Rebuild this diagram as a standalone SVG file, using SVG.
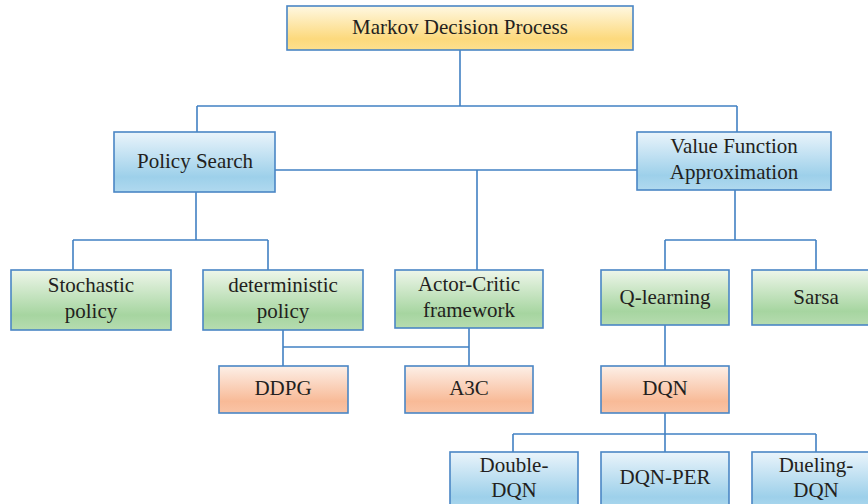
<svg xmlns="http://www.w3.org/2000/svg" width="868" height="504" viewBox="0 0 868 504">
  <defs>
    <linearGradient id="gYellow" x1="0" y1="0" x2="0" y2="1">
      <stop offset="0" stop-color="#fff8e2"/>
      <stop offset="0.75" stop-color="#fcd97c"/>
      <stop offset="1" stop-color="#fde08e"/>
    </linearGradient>
    <linearGradient id="gBlue" x1="0" y1="0" x2="0" y2="1">
      <stop offset="0" stop-color="#eaf4fb"/>
      <stop offset="0.75" stop-color="#9dd0ea"/>
      <stop offset="1" stop-color="#b0d9ef"/>
    </linearGradient>
    <linearGradient id="gGreen" x1="0" y1="0" x2="0" y2="1">
      <stop offset="0" stop-color="#eef6ea"/>
      <stop offset="0.75" stop-color="#a6d5a0"/>
      <stop offset="1" stop-color="#b6dcb0"/>
    </linearGradient>
    <linearGradient id="gOrange" x1="0" y1="0" x2="0" y2="1">
      <stop offset="0" stop-color="#fdf0e8"/>
      <stop offset="0.75" stop-color="#f8ba97"/>
      <stop offset="1" stop-color="#f9c4a6"/>
    </linearGradient>
  </defs>
  <style>
    .box { stroke: #4a86c5; stroke-width: 1.6; }
    .y { fill: url(#gYellow); }
    .b { fill: url(#gBlue); }
    .g { fill: url(#gGreen); }
    .o { fill: url(#gOrange); }
    text { font-family: "Liberation Serif", "DejaVu Serif", serif; font-size: 21px; fill: #231f20; text-anchor: middle; }
    .links path { fill: none; stroke: #4281c3; stroke-width: 1.6; }
  </style>
  <rect width="868" height="504" fill="#ffffff"/>

  <g class="links">
    <path d="M460 50 V106 M197 106 H737 M197 106 V132 M737 106 V132"/>
    <path d="M275 170 H637 M477 170 V270"/>
    <path d="M196 192 V240 M73 240 H268 M73 240 V270 M268 240 V270"/>
    <path d="M283 330 V366 M283 347 H469 M469 328 V366"/>
    <path d="M735 190 V240 M665 240 H816 M665 240 V270 M816 240 V270"/>
    <path d="M665 325 V366"/>
    <path d="M665 413 V452 M513 434 H816 M513 434 V452 M816 434 V452"/>
  </g>

  <g id="mdp"><rect class="box y" x="287" y="6" width="346" height="44"/><text x="460" y="34">Markov Decision Process</text></g>
  <g id="policy-search"><rect class="box b" x="114" y="132" width="161" height="60"/><text x="195" y="168">Policy Search</text></g>
  <g id="value-function"><rect class="box b" x="637" y="132" width="194" height="58"/><text x="734" y="153">Value Function</text><text x="734" y="179">Approximation</text></g>
  <g id="stochastic"><rect class="box g" x="11" y="270" width="160" height="60"/><text x="91" y="292">Stochastic</text><text x="91" y="318">policy</text></g>
  <g id="deterministic"><rect class="box g" x="203" y="270" width="160" height="60"/><text x="283" y="292">deterministic</text><text x="283" y="318">policy</text></g>
  <g id="actor-critic"><rect class="box g" x="395" y="270" width="148" height="58"/><text x="469" y="291">Actor-Critic</text><text x="469" y="317">framework</text></g>
  <g id="q-learning"><rect class="box g" x="601" y="270" width="128" height="55"/><text x="665" y="304">Q-learning</text></g>
  <g id="sarsa"><rect class="box g" x="752" y="270" width="120" height="55"/><text x="816" y="304">Sarsa</text></g>
  <g id="ddpg"><rect class="box o" x="219" y="366" width="129" height="47"/><text x="283" y="395">DDPG</text></g>
  <g id="a3c"><rect class="box o" x="405" y="366" width="128" height="47"/><text x="469" y="395">A3C</text></g>
  <g id="dqn"><rect class="box o" x="601" y="366" width="128" height="47"/><text x="665" y="395">DQN</text></g>
  <g id="double-dqn"><rect class="box b" x="450" y="452" width="128" height="60"/><text x="514" y="472">Double-</text><text x="514" y="497">DQN</text></g>
  <g id="dqn-per"><rect class="box b" x="601" y="452" width="128" height="60"/><text x="665" y="484">DQN-PER</text></g>
  <g id="dueling-dqn"><rect class="box b" x="752" y="452" width="120" height="60"/><text x="816" y="472">Dueling-</text><text x="816" y="497">DQN</text></g>
</svg>
